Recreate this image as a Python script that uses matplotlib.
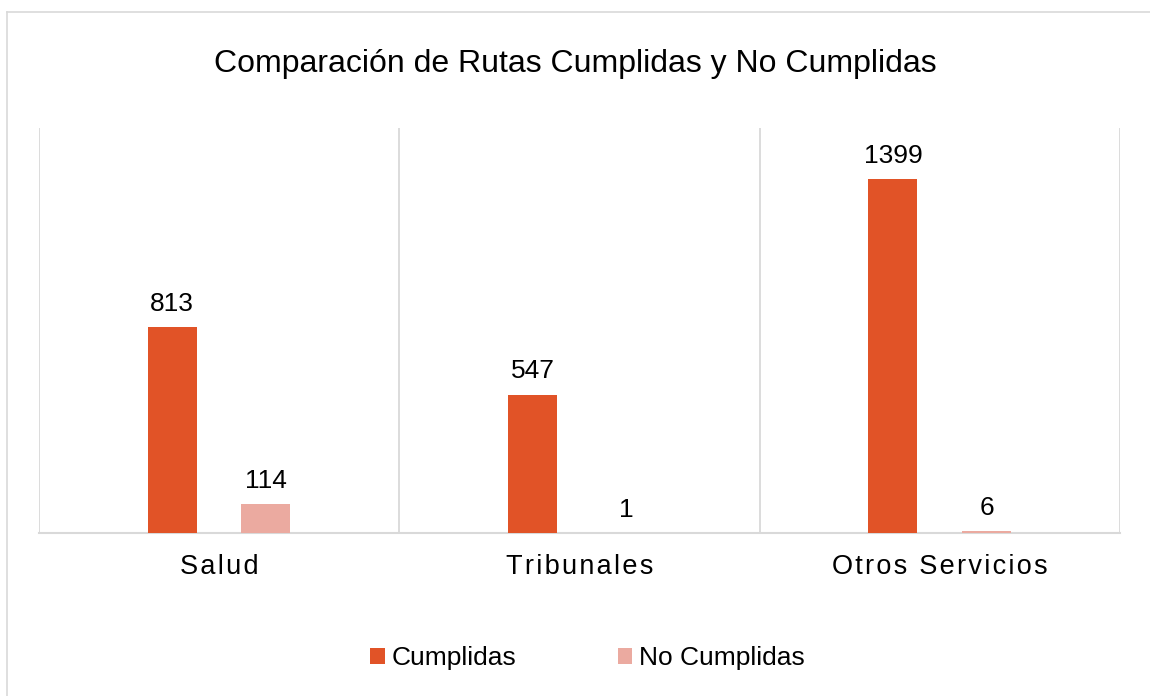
import numpy as np
import matplotlib.pyplot as plt
from matplotlib.patches import Patch
from matplotlib.lines import Line2D

plt.rcParams['font.family'] = ['Liberation Sans', 'DejaVu Sans']

categories = ["Salud", "Tribunales", "Otros Servicios"]
cumplidas = [813, 547, 1399]
no_cumplidas = [114, 1, 6]
series_names = ["Cumplidas", "No Cumplidas"]
colors = ["#E15327", "#EBAAA0"]
grid_color = "#D9D9D9"

fig = plt.figure(figsize=(11.5, 6.96), dpi=100)
ax = fig.add_axes([0.0339, 0.2342, 0.94, 0.5819])

x = np.arange(len(categories))
offset = 0.13
width = 0.136
b1 = ax.bar(x - offset, cumplidas, width, color=colors[0], zorder=3)
b2 = ax.bar(x + offset, no_cumplidas, width, color=colors[1], zorder=3)

for bars in (b1, b2):
    for rect in bars:
        h = rect.get_height()
        ax.annotate(f"{h:g}", (rect.get_x() + rect.get_width() / 2, h),
                    xytext=(0, 8), textcoords="offset points",
                    ha="center", va="bottom", fontsize=19, color="#000000")

ax.set_xlim(-0.5, len(categories) - 0.5)
ax.set_ylim(0, 1600)
for b in np.arange(-0.5, len(categories), 1.0):
    ax.axvline(b, color=grid_color, lw=1.3, zorder=1)

for s in ["top", "left", "right"]:
    ax.spines[s].set_visible(False)
ax.spines["bottom"].set_color(grid_color)
ax.spines["bottom"].set_linewidth(1.5)
ax.set_yticks([])
ax.set_xticks(x)
hair = "\u200a"
ax.set_xticklabels([hair.join(c) for c in categories], fontsize=19.5)
ax.tick_params(axis="x", length=0, pad=15)

fig.text(0.5, 0.908, "Comparación de Rutas Cumplidas y No Cumplidas",
         ha="center", va="center", fontsize=23)

handles = [Patch(facecolor=c, edgecolor="none") for c in colors]
fig.legend(handles, series_names, loc="center", bbox_to_anchor=(0.511, 0.054),
           ncol=2, frameon=False, fontsize=19, handlelength=0.55,
           handleheight=0.55, handletextpad=0.25, columnspacing=3.85)

# outer chart border (top and left edges only visible)
fig.add_artist(Line2D([7 / 1150, 1], [1 - 12 / 696, 1 - 12 / 696],
                      transform=fig.transFigure, color=grid_color, lw=1.2))
fig.add_artist(Line2D([7 / 1150, 7 / 1150], [0, 1 - 12 / 696],
                      transform=fig.transFigure, color=grid_color, lw=1.2))

fig.savefig("out.png", dpi=100)
